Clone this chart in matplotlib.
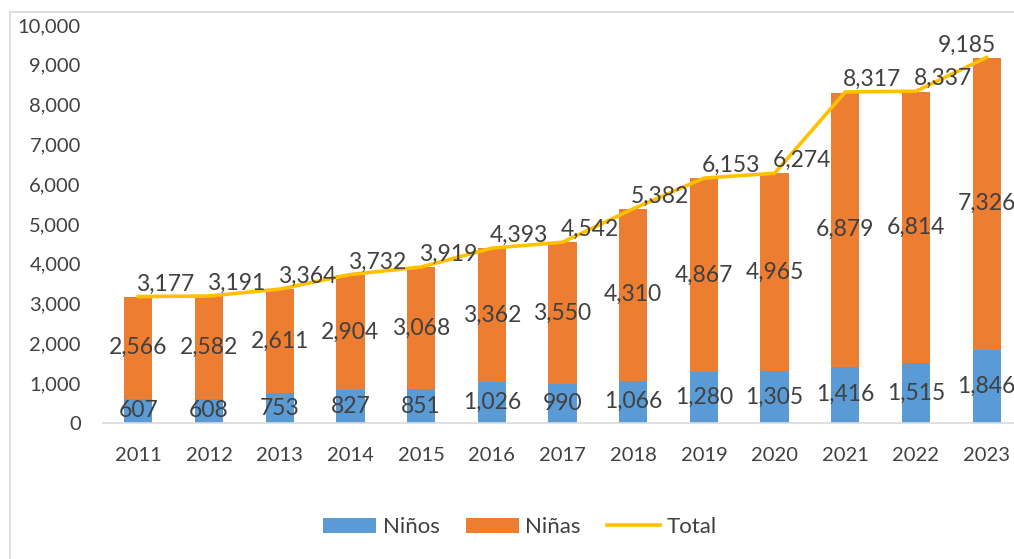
import matplotlib
matplotlib.use("Agg")
import matplotlib.pyplot as plt
import numpy as np
from matplotlib.patches import Rectangle

plt.rcParams['font.family'] = ['Lato', 'DejaVu Sans']

years = ['2011', '2012', '2013', '2014', '2015', '2016', '2017',
         '2018', '2019', '2020', '2021', '2022', '2023']
ninos = [607, 608, 753, 827, 851, 1026, 990, 1066, 1280, 1305, 1416, 1515, 1846]
ninas = [2566, 2582, 2611, 2904, 3068, 3362, 3550, 4310, 4867, 4965, 6879, 6814, 7326]
total = [3177, 3191, 3364, 3732, 3919, 4393, 4542, 5382, 6153, 6274, 8317, 8337, 9185]

TXT = '#404040'
W, H = 1014, 559

fig = plt.figure(figsize=(W / 100, H / 100), dpi=100)
# chart frame (cut off at right/bottom like the screenshot)
fig.patches.append(Rectangle((10 / W, -0.1), 1.2, 1 - 12 / H + 0.1,
                             transform=fig.transFigure, fill=False,
                             edgecolor='#D9D9D9', linewidth=1.2))

ax = fig.add_axes([103 / W, (H - 423) / H, (1022 - 103) / W, (423 - 25) / H])
x = np.arange(len(years))
b1 = ax.bar(x, ninos, width=0.4, color='#5B9BD5', label='Niños')
b2 = ax.bar(x, ninas, width=0.4, bottom=ninos, color='#ED7D31', label='Niñas')
ln, = ax.plot(x, total, color='#FFC000', linewidth=2.6, label='Total')

for i in range(len(years)):
    ax.text(x[i], ninos[i] / 2, f'{ninos[i]:,}', ha='center', va='center',
            fontsize=16.5, color=TXT)
    ax.text(x[i], ninos[i] + ninas[i] / 2, f'{ninas[i]:,}', ha='center',
            va='center', fontsize=16.5, color=TXT)
    # last label is pushed back inside the chart area
    if i == len(years) - 1:
        ax.annotate(f'{total[i]:,}', (x[i], total[i]), xytext=(7, 9),
                    textcoords='offset points', ha='right', va='center',
                    fontsize=16.5, color=TXT)
    else:
        ax.annotate(f'{total[i]:,}', (x[i], total[i]), xytext=(-1.5, 9),
                    textcoords='offset points', ha='left', va='center',
                    fontsize=16.5, color=TXT)

ax.set_xlim(-0.5, 12.5)
ax.set_ylim(0, 10000)
ax.set_xticks(x)
ax.set_xticklabels(years)
ax.set_yticks(np.arange(0, 10001, 1000))
ax.yaxis.set_major_formatter(matplotlib.ticker.FuncFormatter(lambda v, p: f'{int(v):,}'))
ax.tick_params(axis='y', length=0, pad=16, labelsize=14.5, colors=TXT)
ax.tick_params(axis='x', length=0, pad=17, labelsize=14.5, colors=TXT)
for s in ['top', 'right', 'left']:
    ax.spines[s].set_visible(False)
ax.spines['bottom'].set_color('#D9D9D9')
ax.spines['bottom'].set_linewidth(1.2)

fig.legend(handles=[b1, b2, ln], loc='center', bbox_to_anchor=(520 / W, 1 - 527 / H),
           ncol=3, frameon=False, fontsize=16, handlelength=2.36, handleheight=0.64,
           columnspacing=1.2, handletextpad=0.3, labelcolor=TXT)

fig.savefig('out.png', dpi=100)
